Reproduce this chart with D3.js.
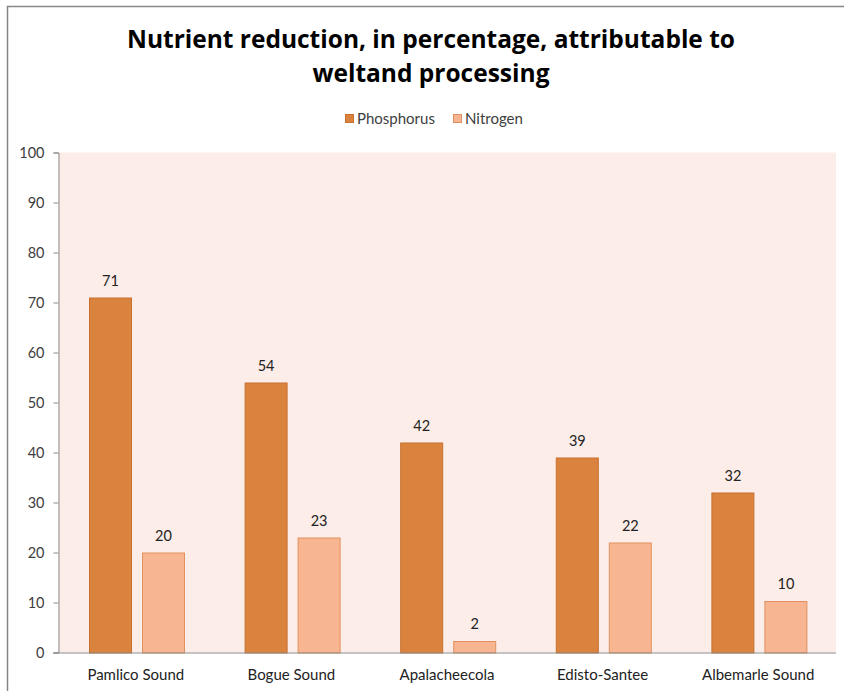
<!DOCTYPE html>
<html><head><meta charset="utf-8">
<script src="https://cdn.jsdelivr.net/npm/d3@7/dist/d3.min.js"></script>
<style>body{margin:0;background:#fff}svg{display:block}</style>
</head><body>
<script>
const categories = ["Pamlico Sound","Bogue Sound","Apalacheecola","Edisto-Santee","Albemarle Sound"];
const seriesNames = ["Phosphorus","Nitrogen"];
const phosphorus = [71, 54, 42, 39, 32];
const nitrogen = [20, 23, 2.3, 22, 10.3];
const yTicks = [0,10,20,30,40,50,60,70,80,90,100];
const titleLines = ["Nutrient reduction, in percentage, attributable to","weltand processing"];

const W = 844, H = 691;
const font = "Lato, 'Open Sans', sans-serif";
const colors = {Phosphorus:"#D9833F", Nitrogen:"#F8B592"};
const strokes = {Phosphorus:"#C8712E", Nitrogen:"#E0915F"};
const svg = d3.select("body").append("svg").attr("width",W).attr("height",H);

svg.append("rect").attr("x",7.5).attr("y",6.5).attr("width",W).attr("height",H)
  .attr("fill","#fff").attr("stroke","#878787").attr("stroke-width",1.5);

const m = {left:58, right:836, top:152.5, bottom:652.5};
const x0 = d3.scaleBand().domain(categories).range([m.left,m.right]);
const x1 = d3.scaleBand().domain(seriesNames).range([31, 31+96]).paddingInner(10/53);
const y = d3.scaleLinear().domain([0,100]).range([m.bottom,m.top]);

svg.append("rect").attr("x",m.left).attr("y",m.top).attr("width",m.right-m.left).attr("height",m.bottom-m.top).attr("fill","#FCEDE8");

// title
svg.append("g").selectAll("text").data(titleLines).join("text")
  .attr("x",431).attr("y",(d,i)=>48+i*34).attr("text-anchor","middle")
  .attr("font-family","'Open Sans', sans-serif").attr("font-weight","bold").attr("font-size",24.5)
  .attr("fill","#000").text(d=>d);

// legend
const leg = svg.append("g").attr("font-family",font).attr("font-size",15).attr("fill","#404040");
const legX = [345, 453];
seriesNames.forEach((s,i)=>{
  leg.append("rect").attr("x",legX[i]+0.5).attr("y",114.5).attr("width",8).attr("height",8)
    .attr("fill",colors[s]).attr("stroke",strokes[s]);
  leg.append("text").attr("x",legX[i]+12).attr("y",123.5).text(s).attr("fill","#404040");
});

// y axis
const yAxis = d3.axisLeft(y).tickValues(yTicks).tickSize(5).tickPadding(9);
const ga = svg.append("g").attr("transform",`translate(${m.left+0.5},0)`).call(yAxis);
ga.selectAll("path,line").attr("stroke","#8c8c8c");
ga.selectAll("text").attr("font-family",font).attr("font-size",14.5).attr("fill","#404040");

// bars
const data = categories.map((c,i)=>({c, vals:[{s:"Phosphorus",v:phosphorus[i]},{s:"Nitrogen",v:nitrogen[i]}]}));
const g = svg.append("g");
const grp = g.selectAll("g").data(data).join("g").attr("transform",d=>`translate(${x0(d.c)},0)`);
grp.selectAll("rect").data(d=>d.vals).join("rect")
  .attr("x",d=>x1(d.s)+0.5).attr("y",d=>y(d.v)+0.5)
  .attr("width",x1.bandwidth()-1).attr("height",d=>y(0)-y(d.v))
  .attr("fill",d=>colors[d.s]).attr("stroke",d=>strokes[d.s]).attr("stroke-width",1);
grp.selectAll("text").data(d=>d.vals).join("text")
  .attr("x",d=>x1(d.s)+x1.bandwidth()/2).attr("y",d=>y(d.v)-12)
  .attr("text-anchor","middle").attr("font-family",font).attr("font-size",14.5).attr("fill","#222")
  .text(d=>d3.format(".0f")(d.v));

// x axis
const xAxis = d3.axisBottom(x0).tickSize(0).tickPadding(16);
const gx = svg.append("g").attr("transform",`translate(0,${m.bottom+0.5})`).call(xAxis);
gx.select("path").attr("stroke","#8c8c8c").attr("d",`M${m.left-5},0H${m.right}`);
gx.selectAll("text").attr("font-family",font).attr("font-size",15).attr("fill","#222");
</script>
</body></html>
